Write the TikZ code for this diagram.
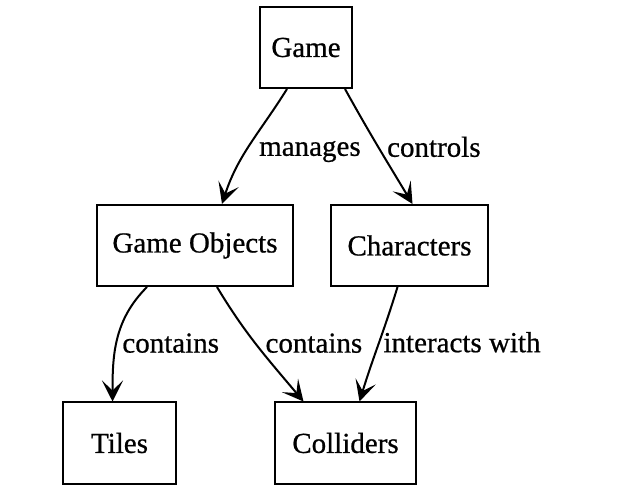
\documentclass[tikz,border=0pt]{standalone}
\usepackage{fontspec}
\setmainfont{Liberation Serif}[FakeBold=0.7]
\usetikzlibrary{arrows.meta}

\begin{document}
\begin{tikzpicture}[x=1pt,y=1pt,
    font=\fontsize{29}{34}\selectfont,
    box/.style={draw,line width=2pt,minimum height=81pt,inner sep=0pt},
    link/.style={line width=2pt,-{Stealth[length=21pt,width=21pt,inset=10pt]}},
    lbl/.style={anchor=west,inner sep=4pt}]
    \useasboundingbox(0,0)rectangle(629,490);
    \node[box,minimum width=92pt](game)at(306,442.5){Game};
    \node[box,minimum width=196pt](objects)at(195,244.5){Game Objects};
    \node[box,minimum width=157pt](chars)at(409.5,244.5){Characters};
    \node[box,minimum width=113pt](tiles)at(119.5,47){Tiles};
    \node[box,minimum width=141pt](colliders)at(345.5,47){Colliders};
    \draw[link]([xshift=-19pt]game.south)to[out=-122,in=72]node[lbl,xshift=4pt,yshift=-7pt]{manages}([xshift=27pt]objects.north);
    \draw[link]([xshift=39pt]game.south)to[out=-61,in=121]node[lbl,xshift=4pt]{controls}([xshift=3pt]chars.north);
    \draw[link]([xshift=-48pt]objects.south)to[out=-135,in=90]node[lbl,yshift=-4pt]{contains}([xshift=-7pt]tiles.north);
    \draw[link]([xshift=22pt]objects.south)to[out=-59,in=130]node[lbl,xshift=3pt,yshift=3pt]{contains}([xshift=-42pt]colliders.north);
    \draw[link]([xshift=-12pt]chars.south)to[out=-107,in=73]node[lbl,yshift=2pt]{interacts with}([xshift=14pt]colliders.north);
\end{tikzpicture}
\end{document}
